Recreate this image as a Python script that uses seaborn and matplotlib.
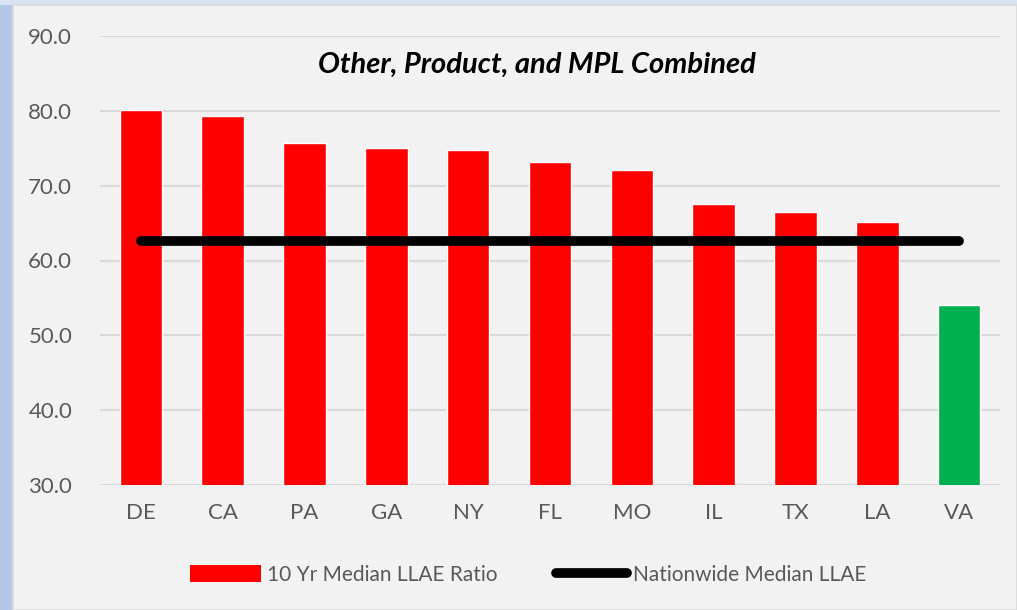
import matplotlib
matplotlib.use("Agg")
import pandas as pd
import matplotlib.pyplot as plt
import matplotlib.patches as mpatches
import matplotlib.lines as mlines
import seaborn as sns

# data
states = ["DE", "CA", "PA", "GA", "NY", "FL", "MO", "IL", "TX", "LA", "VA"]
llae_ratio = [80.1, 79.3, 75.7, 75.0, 74.8, 73.2, 72.1, 67.5, 66.5, 65.2, 54.1]
nationwide_median = 62.6
bar_colors = ["#ff0000"] * 10 + ["#00b050"]

sns.set_style("white")
plt.rcParams["font.family"] = ["Lato", "DejaVu Sans"]

df = pd.DataFrame({"state": states, "ratio": llae_ratio})

fig = plt.figure(figsize=(10.17, 6.1), dpi=100)
fig.patch.set_facecolor("#f2f2f2")

# blue frame at left and top edges
fig.patches.append(mpatches.Rectangle((0, 0), 13 / 1017, 1, transform=fig.transFigure,
                                      facecolor="#b4c7e7", edgecolor="none", zorder=0))
fig.patches.append(mpatches.Rectangle((0, 1 - 5 / 610), 1, 5 / 610, transform=fig.transFigure,
                                      facecolor="#dae3f3", edgecolor="none", zorder=0))
fig.patches.append(mpatches.Rectangle((13 / 1017, 0), 1 - 13 / 1017, 1 - 5 / 610,
                                      transform=fig.transFigure, facecolor="none",
                                      edgecolor="#d9d9d9", lw=1.2, zorder=1))

ax = fig.add_axes([100 / 1017, 1 - 485 / 610, 900 / 1017, 449 / 610])
ax.set_facecolor("#f2f2f2")

sns.barplot(data=df, x="state", y="ratio", hue="state", palette=bar_colors,
            legend=False, width=0.52, ax=ax, zorder=3, saturation=1)
ax.plot([0, len(states) - 1], [nationwide_median] * 2, color="black", lw=7,
        solid_capstyle="round", zorder=4)

ax.set_ylim(30, 90)
ax.set_xlim(-0.5, len(states) - 0.5)
ax.set_yticks(range(30, 91, 10))
ax.set_yticklabels([f"{v:.1f}" for v in range(30, 91, 10)])
ax.yaxis.grid(True, color="#d9d9d9", lw=1.5, zorder=0)
ax.set_axisbelow(True)
for s in ax.spines.values():
    s.set_visible(False)
ax.tick_params(axis="both", length=0, labelsize=16, labelcolor="#595959")
ax.tick_params(axis="y", pad=20)
ax.tick_params(axis="x", pad=13)
ax.set_xlabel("")
ax.set_ylabel("")

ax.text(0.485, 0.935, "Other, Product, and MPL Combined", transform=ax.transAxes,
        ha="center", va="center", fontsize=21, fontweight="bold", fontstyle="italic",
        color="black")

handles = [mpatches.Patch(facecolor="#ff0000", edgecolor="none", label="10 Yr Median LLAE Ratio"),
           mlines.Line2D([], [], color="black", lw=7, solid_capstyle="round",
                         label="Nationwide Median LLAE")]
fig.legend(handles=handles, loc="center", bbox_to_anchor=(528 / 1017, 1 - 575 / 610), ncol=2,
           frameon=False, fontsize=15, labelcolor="#595959", handlelength=3.4,
           handleheight=0.9, handletextpad=0.3, columnspacing=2.8)

fig.savefig("out.png", dpi=100, facecolor=fig.get_facecolor())
